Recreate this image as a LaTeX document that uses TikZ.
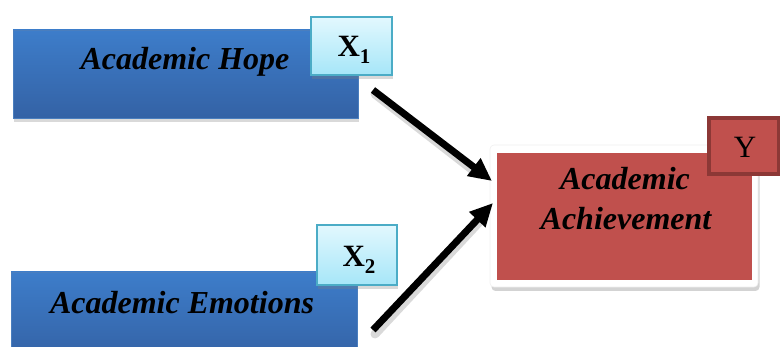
\documentclass[tikz,border=0pt]{standalone}
\usepackage{fontspec}
\setmainfont{Liberation Serif}
\usetikzlibrary{shadows,arrows.meta}

\definecolor{bluetop}{HTML}{3D7DCA}
\definecolor{bluebot}{HTML}{3462A5}
\definecolor{blueedge}{HTML}{4A7EBE}
\definecolor{cyantop}{HTML}{E2F8FE}
\definecolor{cyanbot}{HTML}{A6E6F8}
\definecolor{cyanedge}{HTML}{4BACC6}
\definecolor{redfill}{HTML}{C0504D}
\definecolor{rededge}{HTML}{8C3836}

\tikzset{
  softshadow/.style={drop shadow={opacity=0.3, shadow xshift=1pt, shadow yshift=-4pt}},
  varbox/.style={rectangle, draw=blueedge, line width=0.8pt,
    top color=bluetop, bottom color=bluebot, softshadow, inner sep=0pt},
  tagbox/.style={rectangle, draw=cyanedge, line width=2.2pt,
    top color=cyantop, bottom color=cyanbot, softshadow, inner sep=0pt,
    minimum width=80pt, minimum height=58pt},
  label/.style={font=\fontsize{32}{40}\selectfont\bfseries\itshape, text=black,
    inner sep=0pt, align=center},
  tagtext/.style={font=\fontsize{31}{31}\selectfont, text=black, inner sep=0pt},
  effect/.style={line width=7pt, draw=black,
    -{Triangle[length=23pt,width=21pt]}},
  effectshadow/.style={line width=9pt, draw=black, opacity=0.15, line cap=round},
}

\newcommand{\subx}[1]{\textbf{X}\raisebox{-0.22em}{\fontsize{21}{21}\selectfont\bfseries #1}}

\begin{document}
\begin{tikzpicture}[x=1pt,y=-1pt]
  \useasboundingbox (0,0) rectangle (780,347);

  % predictor boxes
  \node[varbox, minimum width=345pt, minimum height=88pt] (hope) at (185.5,74) {};
  \node[label, anchor=base] (hopetxt) at (185,70) {Academic Hope};

  \node[varbox, minimum width=346pt, minimum height=88pt] (emo) at (184,316) {};
  \node[label, anchor=base] (emotxt) at (182,314) {Academic Emotions};

  % variable tags on the predictors
  \node[tagbox, minimum width=81pt] (x1) at (351.5,46) {};
  \node[tagtext, anchor=base] (x1txt) at (354,57) {\subx{1}};

  \node[tagbox, minimum height=60pt] (x2) at (357,255) {};
  \node[tagtext, anchor=base] (x2txt) at (359,267) {\subx{2}};

  % outcome box: white frame with red panel
  \node[rectangle, rounded corners=4pt, fill=white, draw=gray!12, line width=0.6pt,
        minimum width=268pt, minimum height=142pt,
        drop shadow={opacity=0.35, shadow xshift=1.5pt, shadow yshift=-4pt}] (ach) at (624,216) {};
  \node[rectangle, fill=redfill, minimum width=255pt, minimum height=127pt,
        inner sep=0pt] (achpanel) at (624.5,216.5) {};
  \node[label, anchor=base] (achtxt1) at (625,190) {Academic};
  \node[label, anchor=base] (achtxt2) at (626,230) {Achievement};

  % outcome tag
  \node[rectangle, fill=redfill, draw=rededge, line width=3.5pt,
        minimum width=70pt, minimum height=56pt, inner sep=0pt] (y) at (744,146) {};
  \node[tagtext, anchor=base] (ytxt) at (745,158) {Y};

  % effect arrows
  \coordinate (s1) at (373,90);
  \coordinate (t1) at (492,181);
  \coordinate (s2) at (373,330);
  \coordinate (t2) at (493,203);

  \draw[effectshadow] ([shift={(2,4)}]s1) -- ([shift={(-14,-7)}]t1);
  \draw[effectshadow] ([shift={(2,4)}]s2) -- ([shift={(-12,17)}]t2);
  \draw[effect] (s1) -- (t1);
  \draw[effect] (s2) -- (t2);
\end{tikzpicture}
\end{document}
